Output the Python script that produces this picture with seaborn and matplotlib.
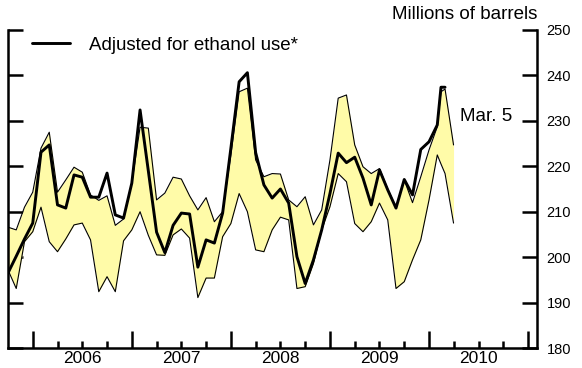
import numpy as np
import pandas as pd
import seaborn as sns
import matplotlib.pyplot as plt

# Month positions (0 = Oct 2005); the last few points are weekly readings
band_months = list(range(53)) + [52.45, 52.94, 53.97]
line_months = list(range(53)) + [52.45, 52.94]

range_high = [206.6, 206.0, 211.0, 214.3, 224.0, 227.5, 214.3, 217.0, 219.8, 218.7,
              213.7, 212.5, 213.5, 207.0, 208.4, 216.3, 228.6, 228.4, 212.6, 214.1,
              217.6, 217.2, 213.5, 210.4, 213.1, 207.8, 210.0, 222.5, 236.4, 237.2,
              221.4, 217.7, 218.4, 218.3, 212.6, 211.1, 213.3, 207.1, 210.4, 221.4,
              235.0, 235.7, 224.7, 219.9, 218.4, 219.5, 215.0, 211.0, 217.0, 212.0,
              217.7, 223.6, 228.7, 236.4, 237.0, 224.7]
range_low = [197.2, 193.1, 203.4, 205.6, 211.0, 203.4, 201.2, 204.0, 207.1, 207.5,
             203.8, 192.4, 195.7, 192.4, 203.6, 206.0, 210.0, 204.8, 200.5, 200.4,
             204.9, 206.2, 204.2, 191.1, 195.4, 195.4, 204.5, 207.4, 214.0, 210.0,
             201.6, 201.2, 206.0, 208.8, 208.2, 193.1, 193.5, 198.6, 206.0, 211.1,
             218.4, 216.6, 207.4, 205.6, 207.8, 211.9, 208.2, 193.1, 194.6, 199.4,
             203.8, 212.6, 222.5, 220.5, 218.4, 207.5]
adjusted = [196.5, 200.2, 204.0, 207.5, 223.1, 224.7, 211.5, 210.8, 218.1, 217.6,
            213.2, 213.2, 218.5, 209.3, 208.6, 216.3, 232.4, 219.0, 205.5, 201.0,
            207.0, 209.7, 209.5, 197.8, 203.8, 203.1, 209.7, 224.0, 238.6, 240.6,
            223.0, 215.9, 213.0, 215.0, 211.9, 200.1, 194.2, 199.4, 206.0, 214.0,
            222.9, 220.8, 222.0, 217.4, 211.5, 219.2, 214.8, 210.8, 217.1, 213.7,
            223.7, 225.4, 229.1, 237.4, 237.4]

years = [2006, 2007, 2008, 2009, 2010]
y_ticks = [180, 190, 200, 210, 220, 230, 240, 250]

band = pd.DataFrame({"date": 2005.75 + np.array(band_months) / 12,
                     "high": range_high, "low": range_low})
line = pd.DataFrame({"date": 2005.75 + np.array(line_months) / 12,
                     "stocks": adjusted})

# Plotting
sns.set_theme(style="ticks", rc={"text.color": "black", "xtick.color": "black",
                                 "ytick.color": "black", "axes.edgecolor": "black"})
plt.rcParams['font.family'] = ['Liberation Sans', 'DejaVu Sans']
fig = plt.figure(figsize=(5.82, 3.68), dpi=100)
ax = fig.add_axes([0.0137, 0.0543, 0.9090, 0.8642])

ax.fill_between(band["date"], band["low"], band["high"], color="#FFFBA8", lw=0)
sns.lineplot(data=band, x="date", y="high", color="black", lw=0.8, ax=ax)
sns.lineplot(data=band, x="date", y="low", color="black", lw=0.8, ax=ax)
sns.lineplot(data=line, x="date", y="stocks", color="black", lw=2.1,
             label="Adjusted for ethanol use*", ax=ax)

ax.set_xlim(2005.75, 2011.09)
ax.set_ylim(180, 250)
ax.set_xlabel("")
ax.set_ylabel("")

for side in ["left", "right", "bottom"]:
    ax.spines[side].set_visible(True)
    ax.spines[side].set_linewidth(1.8)
ax.spines["top"].set_visible(False)

ax.set_yticks(y_ticks)
ax.tick_params(axis="y", left=True, right=True, labelleft=False, labelright=True,
               direction="in", length=11, width=1.8, labelsize=10.5, pad=7)

quarters = [y + q for y in [2005] + years for q in (0.25, 0.5, 0.75)]
quarters = [q for q in quarters if 2006 < q < 2011]
q_labels = [str(int(q)) if abs(q % 1 - 0.5) < 1e-6 else "" for q in quarters]
ax.set_xticks(years + [2011], labels=[""] * 6)
ax.set_xticks(quarters, labels=q_labels, minor=True)
ax.tick_params(axis="x", which="major", direction="in", length=12, width=1.8)
ax.tick_params(axis="x", which="minor", direction="in", length=5, width=1.8,
               labelsize=12.5, pad=2.5)

ax.text(1.0, 1.05, "Millions of barrels", transform=ax.transAxes, ha="right",
        va="center", fontsize=13.5)
ax.text(2010.31, 231.0, "Mar. 5", ha="left", va="center", fontsize=13.5)

ax.legend(loc="center left", bbox_to_anchor=(0.045, 0.953), frameon=False,
          borderaxespad=0, borderpad=0, handlelength=2.05, handletextpad=1.0,
          fontsize=13.5)

plt.savefig("out.png", dpi=100)
